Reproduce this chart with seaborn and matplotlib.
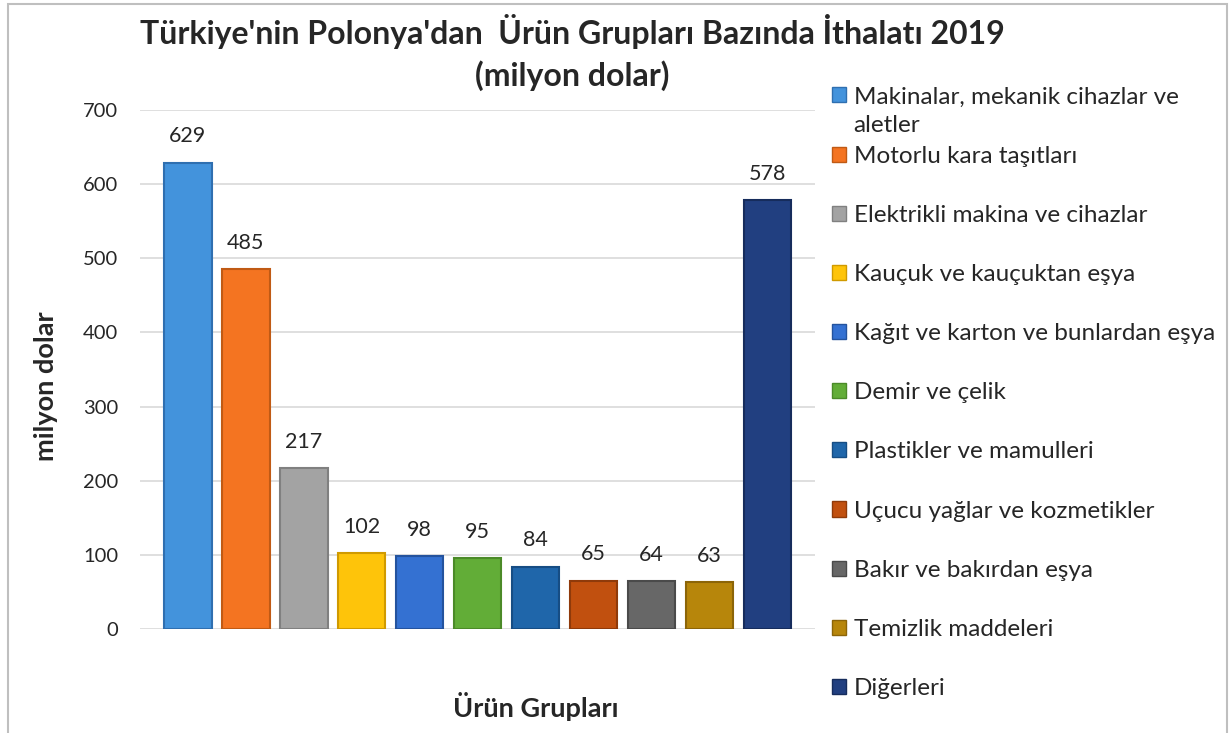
import matplotlib
matplotlib.use("Agg")
import matplotlib.pyplot as plt
import seaborn as sns
import pandas as pd
from matplotlib.patches import Patch, Rectangle

categories = [
    "Makinalar, mekanik cihazlar ve aletler",
    "Motorlu kara taşıtları",
    "Elektrikli makina ve cihazlar",
    "Kauçuk ve kauçuktan eşya",
    "Kağıt ve karton ve bunlardan eşya",
    "Demir ve çelik",
    "Plastikler ve mamulleri",
    "Uçucu yağlar ve kozmetikler",
    "Bakır ve bakırdan eşya",
    "Temizlik maddeleri",
    "Diğerleri",
]
values = [629, 485, 217, 102, 98, 95, 84, 65, 64, 63, 578]
colors = ["#4393dc", "#f47421", "#a3a3a3", "#fec40a", "#3471d2",
          "#62ad37", "#1f66aa", "#c1500f", "#676767", "#b7860b", "#213f80"]
edge_colors = ["#2f6fb0", "#c05a14", "#808080", "#d09a00", "#24539e",
               "#4b8a28", "#164d84", "#8f3a0a", "#4a4a4a", "#8c6508", "#162c5c"]

df = pd.DataFrame({"Kategori": categories, "Deger": values})

sns.set_style("white")
plt.rcParams["font.family"] = ["Lato", "DejaVu Sans"]

fig = plt.figure(figsize=(12.31, 7.33), dpi=100)
ax = fig.add_axes([0.114, 0.142, 0.548, 0.708])

sns.barplot(data=df, x="Kategori", y="Deger", hue="Kategori", palette=colors,
            width=0.82, legend=False, ax=ax, saturation=1)

for bar, ec in zip(ax.patches, edge_colors):
    bar.set_edgecolor(ec)
    bar.set_linewidth(1.5)

for i, v in enumerate(values):
    ax.text(i, v + 22, str(v), ha="center", va="bottom", fontsize=15.5)

ax.set_ylim(0, 700)
ax.set_xlim(-0.82, 10.82)
ax.set_yticks(range(0, 701, 100))
ax.set_xticks([])
ax.tick_params(axis="y", labelsize=14.5, length=0, pad=16)
ax.yaxis.grid(True, color="#d9d9d9", linewidth=1.2)
ax.set_axisbelow(True)
for s in ax.spines.values():
    s.set_visible(False)

ax.set_xlabel("")
ax.set_ylabel("")
fig.text(0.037, 0.473, "milyon dolar", rotation=90, ha="center", va="center",
         fontsize=19.5, fontweight="bold")
fig.text(0.435, 0.036, "Ürün Grupları", ha="center", va="center",
         fontsize=19.5, fontweight="bold")

fig.text(0.465, 0.957, "Türkiye'nin Polonya'dan  Ürün Grupları Bazında İthalatı 2019",
         ha="center", va="center", fontsize=23, fontweight="bold")
fig.text(0.465, 0.897, "(milyon dolar)", ha="center", va="center",
         fontsize=23, fontweight="bold")

# legend: first entry wraps onto a second line in the original
leg_labels = list(categories)
leg_labels[0] = "Makinalar, mekanik cihazlar ve"
handles = [Patch(facecolor=c, edgecolor=e) for c, e in zip(colors, edge_colors)]
fig.legend(handles, leg_labels, loc="upper left", bbox_to_anchor=(0.676, 0.882),
           frameon=False, fontsize=17.5, handlelength=0.58, handleheight=0.58,
           handletextpad=0.3, labelspacing=1.57, borderaxespad=0, borderpad=0)
fig.text(853 / 1231, 1 - 126 / 733, "aletler", ha="left", va="center", fontsize=17.5)

fig.patches.append(Rectangle((8 / 1231, -0.05), 1219 / 1231, 1.045,
                             transform=fig.transFigure, fill=False,
                             edgecolor="#bfbfbf", linewidth=1.5))

fig.savefig("out.png", dpi=100)
